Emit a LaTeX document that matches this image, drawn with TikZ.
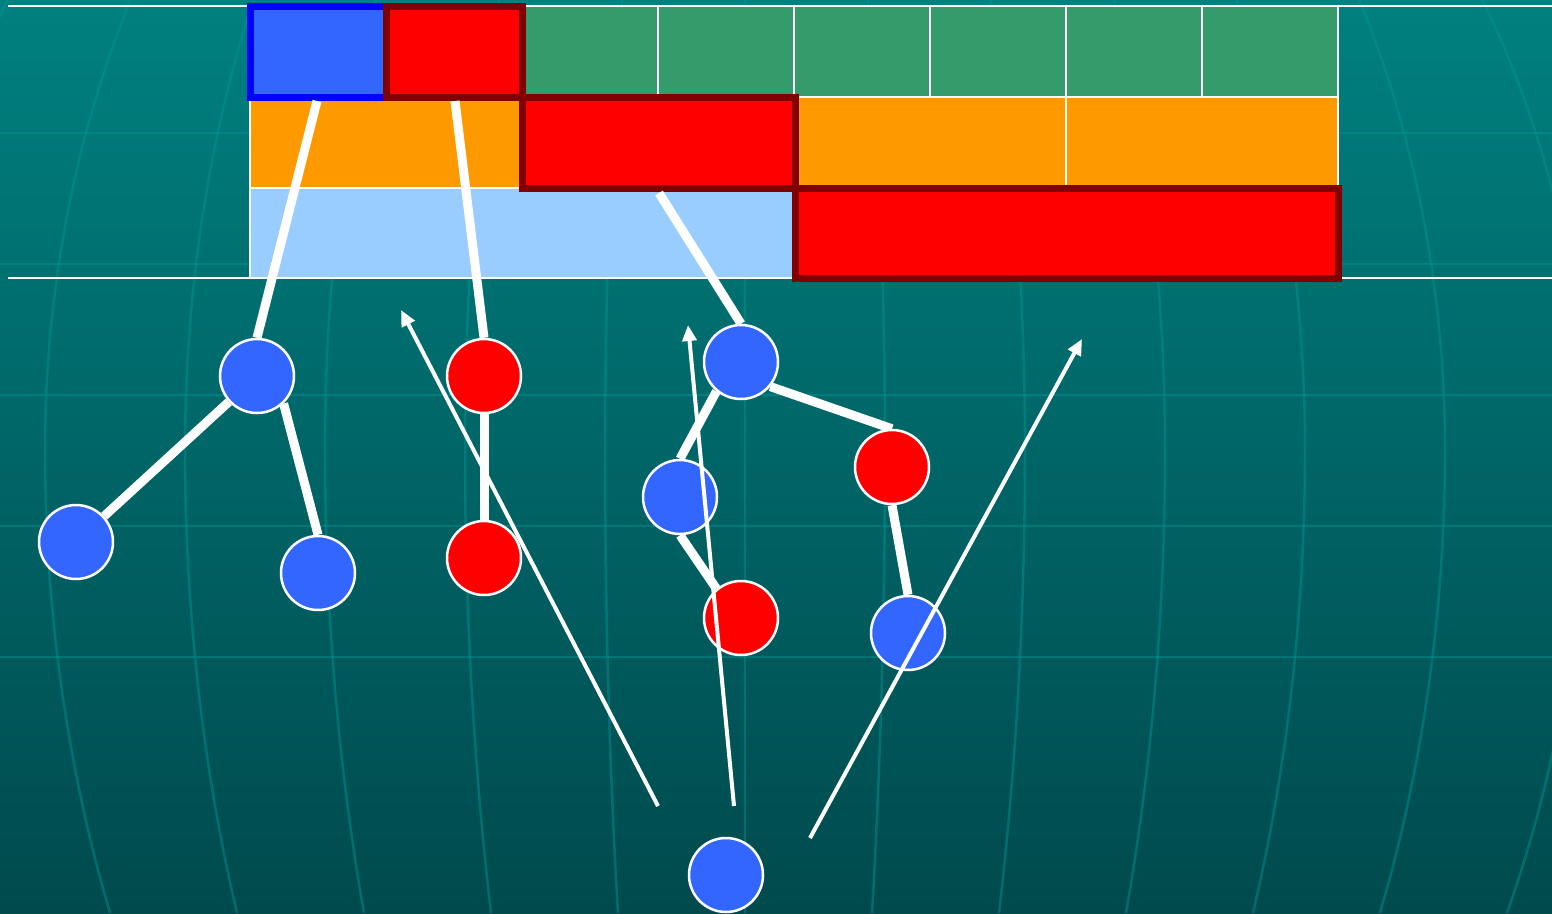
\documentclass[tikz,border=0pt]{standalone}
\usetikzlibrary{arrows.meta}
\definecolor{bgtop}{RGB}{0,128,128}
\definecolor{bgbot}{RGB}{0,74,77}
\definecolor{gridc}{RGB}{0,150,150}
\definecolor{cgreen}{RGB}{54,155,107}
\definecolor{corange}{RGB}{255,153,0}
\definecolor{clblue}{RGB}{153,204,255}
\definecolor{cblue}{RGB}{51,102,255}
\definecolor{cred}{RGB}{255,0,0}
\definecolor{cdred}{RGB}{128,0,0}
\definecolor{cbord}{RGB}{0,0,255}
\pgfdeclarelayer{back}
\pgfdeclarelayer{edgelayer}
\pgfsetlayers{back,edgelayer,main}
\begin{document}
\begin{tikzpicture}[x=1pt,y=-1pt,
  cell/.style={draw=white,line width=2pt},
  hl/.style={draw=cdred,line width=7pt,fill=cred},
  vnode/.style={circle,draw=white,line width=2.5pt,minimum size=74pt,inner sep=0pt},
  bnode/.style={vnode,fill=cblue},
  rnode/.style={vnode,fill=cred},
  edge/.style={draw=white,line width=9pt},
  ptr/.style={draw=white,line width=4pt,-{Triangle[length=16pt,width=14pt]}},
  faint/.style={draw=gridc,opacity=0.45,line width=2.5pt}
]
\useasboundingbox (0,0) rectangle (1552,913);
\begin{pgfonlayer}{back}
\clip (0,0) rectangle (1552,913);
\shade[top color=bgtop,bottom color=bgbot] (0,0) rectangle (1552,913);
% faint globe grid
\foreach \yy in {133,264,395,526,657} {\draw[faint] (0,\yy) -- (1552,\yy);}
\foreach \o in {-840,-700,-560,-420,-280,-140,0,140,280,420,560,700,840} {
  \draw[faint] plot[domain=0:450,samples=16,smooth] ({745+\o*sqrt(1-((\x-450)/940)*((\x-450)/940))},\x);
  \draw[faint] plot[domain=450:913,samples=16,smooth] ({745+\o*sqrt(1-((\x-450)/1100)*((\x-450)/1100))},\x);
}
% table rows
\foreach \i in {2,...,7} {\draw[cell,fill=cgreen] ({250+136*\i},6) rectangle ({386+136*\i},97);}
\draw[cell,fill=corange] (250,97) rectangle (522,188);
\draw[cell,fill=corange] (794,97) rectangle (1066,188);
\draw[cell,fill=corange] (1066,97) rectangle (1338,188);
\draw[cell,fill=clblue] (250,188) rectangle (794,278);
\draw[white,line width=2pt] (8,6) -- (1552,6);
\draw[white,line width=2pt] (8,278) -- (1552,278);
% highlighted cells
\draw[line width=7pt,draw=cbord,fill=cblue] (250,6.5) rectangle (386,97);
\draw[hl] (386,6.5) rectangle (522,97);
\draw[hl] (522,97) rectangle (795,188);
\draw[hl] (795,188) rectangle (1338,278);
\end{pgfonlayer}
% nodes
\node[bnode] (A) at (257,376) {};
\node[bnode] (D) at (76,542) {};
\node[bnode] (E) at (318,573) {};
\node[rnode] (B) at (484,376) {};
\node[rnode] (F) at (484,558) {};
\node[bnode] (C) at (741,362) {};
\node[bnode] (G) at (680,497) {};
\node[rnode] (H) at (741,618) {};
\node[rnode] (I) at (892,467) {};
\node[bnode] (J) at (908,633) {};
\node[bnode] (K) at (726,875) {};
\coordinate (t1) at (317,101);
\coordinate (t2) at (455,101);
\coordinate (t3) at (659,193);
\begin{pgfonlayer}{edgelayer}
\draw[edge] (t1) -- (A.north);
\draw[edge] (t2) -- (B.north);
\draw[edge] (t3) -- (C.north);
\draw[edge] (A) -- (D);
\draw[edge] (A.-46) -- (E.north);
\draw[edge] (B) -- (F);
\draw[edge] (C.-130) -- (G.north);
\draw[edge] (G.south) -- (H.130);
\draw[edge] (C.-40) -- (I.north);
\draw[edge] (I.south) -- (J.north);
\end{pgfonlayer}
% thin arrows
\coordinate (s1) at (658,806); \coordinate (e1) at (401,310);
\coordinate (s2) at (734,806); \coordinate (e2) at (688,325);
\coordinate (s3) at (810,838); \coordinate (e3) at (1082,339);
\draw[ptr] (s1) -- (e1);
\draw[ptr] (s2) -- (e2);
\draw[ptr] (s3) -- (e3);
\end{tikzpicture}
\end{document}
